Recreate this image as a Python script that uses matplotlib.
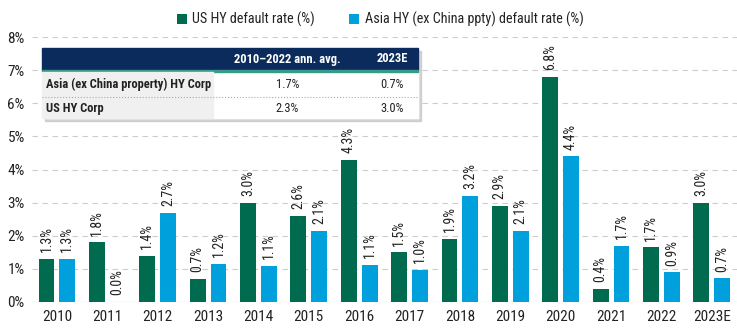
import matplotlib.pyplot as plt
from matplotlib.patches import Rectangle

# fuente estrecha si existe
plt.rcParams['font.family'] = ['Roboto Condensed', 'Liberation Sans Narrow', 'Roboto', 'DejaVu Sans']

## datos
years = ['2010', '2011', '2012', '2013', '2014', '2015', '2016', '2017', '2018',
         '2019', '2020', '2021', '2022', '2023E']
us_hy = [1.3, 1.8, 1.4, 0.7, 3.0, 2.6, 4.3, 1.5, 1.9, 2.9, 6.8, 0.4, 1.65, 3.0]
asia_hy = [1.3, 0.0, 2.7, 1.15, 1.1, 2.15, 1.13, 0.97, 3.2, 2.15, 4.4, 1.7, 0.9, 0.72]
us_labels = ['1.3%', '1.8%', '1.4%', '0.7%', '3.0%', '2.6%', '4.3%', '1.5%', '1.9%',
             '2.9%', '6.8%', '0.4%', '1.7%', '3.0%']
asia_labels = ['1.3%', '0.0%', '2.7%', '1.2%', '1.1%', '2.1%', '1.1%', '1.0%', '3.2%',
               '2.1%', '4.4%', '1.7%', '0.9%', '0.7%']
series_names = ['US HY default rate (%)', 'Asia HY (ex China ppty) default rate (%)']

table_header = ['', '2010\u20132022 ann. avg.', '2023E']
table_rows = [['Asia (ex China property) HY Corp', '1.7%', '0.7%'],
              ['US HY Corp', '2.3%', '3.0%']]

green = '#006b4f'
blue = '#00a0dc'
navy = '#0a2b5b'
txt = '#222222'

fig = plt.figure(figsize=(7.37, 3.32), dpi=100)
ax = fig.add_axes([0.043, 0.0904, 0.957, 0.798])

x = list(range(len(years)))
w = 0.315
off = 0.207
b1 = ax.bar([i - off for i in x], us_hy, w, color=green, label=series_names[0], zorder=3)
b2 = ax.bar([i + off for i in x], asia_hy, w, color=blue, label=series_names[1], zorder=3)

for bars, labs in ((b1, us_labels), (b2, asia_labels)):
    for r, lab in zip(bars, labs):
        ax.text(r.get_x() + r.get_width() / 2, r.get_height() + 0.2, lab,
                rotation=90, ha='center', va='bottom', fontsize=10, color=txt)

ax.set_xlim(-0.5, 13.5)
ax.set_ylim(0, 8)
ax.set_yticks(range(0, 9))
ax.set_yticklabels([f'{v}%' for v in range(0, 9)], fontsize=11, color=txt)
ax.set_xticks(x)
ax.set_xticklabels(years, fontsize=11, color=txt)
ax.tick_params(axis='x', length=0, pad=6)
ax.tick_params(axis='y', length=0, pad=5)
ax.yaxis.grid(True, linestyle=(0, (5, 4)), color='#cccccc', linewidth=0.8, zorder=0)
for s in ax.spines.values():
    s.set_visible(False)
ax.axhline(0, color='#cccccc', linewidth=0.8, zorder=1)

ax.legend(loc='lower center', bbox_to_anchor=(0.494, 0.99), ncol=2, frameon=False,
          fontsize=10.2, handlelength=0.7, handleheight=0.7, handletextpad=0.4,
          columnspacing=2.4, labelcolor=txt)

## tabla
W, H = 737.0, 332.0
def fx(px):
    return px / W
def fy(py):
    return 1 - py / H

left, right = 42, 418
c1, c2 = 213, 362
rows_y = [48, 70, 97, 118]
# sombra
fig.patches.append(Rectangle((fx(left + 3), fy(rows_y[3] + 3)), fx(right - left), (rows_y[3] - rows_y[0]) / H,
                             transform=fig.transFigure, color='#bbbbbb', alpha=0.6, zorder=4))
fig.patches.append(Rectangle((fx(left), fy(rows_y[3])), fx(right - left), (rows_y[3] - rows_y[0]) / H,
                             transform=fig.transFigure, color='white', zorder=5))
fig.patches.append(Rectangle((fx(left), fy(rows_y[1])), fx(right - left), (rows_y[1] - rows_y[0]) / H,
                             transform=fig.transFigure, color=navy, zorder=6))
fig.patches.append(Rectangle((fx(left), fy(rows_y[1] + 1.5)), fx(right - left), 1.5 / H,
                             transform=fig.transFigure, color='#3a9a8a', zorder=6))
fig.patches.append(Rectangle((fx(left), fy(rows_y[3])), fx(c1 - left), (rows_y[3] - rows_y[1] - 1.5) / H,
                             transform=fig.transFigure, color='#f0f0f0', zorder=6))
fig.lines.append(plt.Line2D([fx(left), fx(right)], [fy(rows_y[2]), fy(rows_y[2])],
                            transform=fig.transFigure, color='#aaaaaa', linestyle=':', linewidth=0.8, zorder=7))

cx = [left + 4, (c1 + c2) / 2, (c2 + right) / 2 + 2]
hy = (rows_y[0] + rows_y[1]) / 2
for j, h in enumerate(table_header):
    if h:
        fig.text(fx(cx[j]), fy(hy), h, ha='center', va='center', fontsize=9,
                 fontweight='bold', color='white', zorder=8)
for r, row in enumerate(table_rows):
    yy = (rows_y[r + 1] + rows_y[r + 2]) / 2 + 1
    fig.text(fx(cx[0]), fy(yy), row[0], ha='left', va='center', fontsize=9,
             fontweight='bold', color=txt, zorder=8)
    for j in (1, 2):
        fig.text(fx(cx[j]), fy(yy), row[j], ha='center', va='center', fontsize=9,
                 color=txt, zorder=8)

plt.savefig('out.png', dpi=100)
